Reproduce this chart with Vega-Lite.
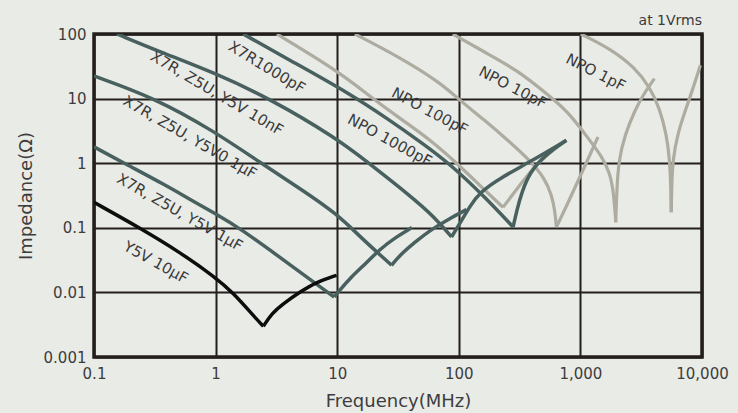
{
  "$schema": "https://vega.github.io/schema/vega-lite/v6.json",
  "width": 608,
  "height": 323,
  "autosize": {"type": "none"},
  "padding": {"left": 94, "top": 34, "right": 36, "bottom": 56},
  "background": "#e9ebe7",
  "config": {
    "view": {"stroke": "#231f1c", "strokeWidth": 3.5},
    "font": "DejaVu Sans"
  },
  "title": {"text": "at 1Vrms", "anchor": "end", "frame": "group", "orient": "top", "fontSize": 14, "fontWeight": "normal", "color": "#3a3a3a", "offset": -1, "font": "DejaVu Sans"},
  "datasets": {
    "curves": [
      {"c": "Y5V 10uF", "p": "a", "fam": "black", "f": 0.1, "z": 0.248},
      {"c": "Y5V 10uF", "p": "a", "fam": "black", "f": 0.239, "z": 0.0993},
      {"c": "Y5V 10uF", "p": "a", "fam": "black", "f": 0.509, "z": 0.0418},
      {"c": "Y5V 10uF", "p": "a", "fam": "black", "f": 0.988, "z": 0.0173},
      {"c": "Y5V 10uF", "p": "a", "fam": "black", "f": 1.40, "z": 0.0098},
      {"c": "Y5V 10uF", "p": "a", "fam": "black", "f": 2.03, "z": 0.00442},
      {"c": "Y5V 10uF", "p": "a", "fam": "black", "f": 2.47, "z": 0.00299},
      {"c": "Y5V 10uF", "p": "b", "fam": "black", "f": 2.47, "z": 0.00299},
      {"c": "Y5V 10uF", "p": "b", "fam": "black", "f": 2.90, "z": 0.00474},
      {"c": "Y5V 10uF", "p": "b", "fam": "black", "f": 3.60, "z": 0.00671},
      {"c": "Y5V 10uF", "p": "b", "fam": "black", "f": 4.93, "z": 0.01014},
      {"c": "Y5V 10uF", "p": "b", "fam": "black", "f": 6.76, "z": 0.01449},
      {"c": "Y5V 10uF", "p": "b", "fam": "black", "f": 9.88, "z": 0.0184},

      {"c": "1uF", "p": "a", "fam": "teal", "f": 0.1, "z": 1.79},
      {"c": "1uF", "p": "a", "fam": "teal", "f": 0.198, "z": 0.895},
      {"c": "1uF", "p": "a", "fam": "teal", "f": 0.376, "z": 0.471},
      {"c": "1uF", "p": "a", "fam": "teal", "f": 0.615, "z": 0.276},
      {"c": "1uF", "p": "a", "fam": "teal", "f": 0.988, "z": 0.1676},
      {"c": "1uF", "p": "a", "fam": "teal", "f": 1.585, "z": 0.0982},
      {"c": "1uF", "p": "a", "fam": "teal", "f": 3.38, "z": 0.0349},
      {"c": "1uF", "p": "a", "fam": "teal", "f": 5.96, "z": 0.01596},
      {"c": "1uF", "p": "a", "fam": "teal", "f": 9.44, "z": 0.00849},
      {"c": "1uF", "p": "b", "fam": "teal", "f": 9.44, "z": 0.00849},
      {"c": "1uF", "p": "b", "fam": "teal", "f": 10.5, "z": 0.01078},
      {"c": "1uF", "p": "b", "fam": "teal", "f": 12.7, "z": 0.01652},
      {"c": "1uF", "p": "b", "fam": "teal", "f": 16.9, "z": 0.0272},
      {"c": "1uF", "p": "b", "fam": "teal", "f": 22.4, "z": 0.0465},
      {"c": "1uF", "p": "b", "fam": "teal", "f": 30.3, "z": 0.0713},
      {"c": "1uF", "p": "b", "fam": "teal", "f": 41.1, "z": 0.1007},

      {"c": "0.1uF", "p": "a", "fam": "teal", "f": 0.1, "z": 22.4},
      {"c": "0.1uF", "p": "a", "fam": "teal", "f": 0.311, "z": 10.36},
      {"c": "0.1uF", "p": "a", "fam": "teal", "f": 0.969, "z": 3.15},
      {"c": "0.1uF", "p": "a", "fam": "teal", "f": 2.39, "z": 0.986},
      {"c": "0.1uF", "p": "a", "fam": "teal", "f": 4.93, "z": 0.408},
      {"c": "0.1uF", "p": "a", "fam": "teal", "f": 9.88, "z": 0.166},
      {"c": "0.1uF", "p": "a", "fam": "teal", "f": 15.3, "z": 0.0739},
      {"c": "0.1uF", "p": "a", "fam": "teal", "f": 21.2, "z": 0.0422},
      {"c": "0.1uF", "p": "a", "fam": "teal", "f": 28.0, "z": 0.0263},
      {"c": "0.1uF", "p": "b", "fam": "teal", "f": 28.0, "z": 0.0263},
      {"c": "0.1uF", "p": "b", "fam": "teal", "f": 32.7, "z": 0.0375},
      {"c": "0.1uF", "p": "b", "fam": "teal", "f": 43.5, "z": 0.0597},
      {"c": "0.1uF", "p": "b", "fam": "teal", "f": 57.8, "z": 0.0914},
      {"c": "0.1uF", "p": "b", "fam": "teal", "f": 84.3, "z": 0.140},
      {"c": "0.1uF", "p": "b", "fam": "teal", "f": 115.6, "z": 0.191},

      {"c": "10nF", "p": "a", "fam": "teal", "f": 0.1545, "z": 100},
      {"c": "10nF", "p": "a", "fam": "teal", "f": 0.349, "z": 53.0},
      {"c": "10nF", "p": "a", "fam": "teal", "f": 0.969, "z": 25.3},
      {"c": "10nF", "p": "a", "fam": "teal", "f": 2.80, "z": 10},
      {"c": "10nF", "p": "a", "fam": "teal", "f": 9.88, "z": 2.43},
      {"c": "10nF", "p": "a", "fam": "teal", "f": 17.4, "z": 1.07},
      {"c": "10nF", "p": "a", "fam": "teal", "f": 39.5, "z": 0.318},
      {"c": "10nF", "p": "a", "fam": "teal", "f": 63.5, "z": 0.1455},
      {"c": "10nF", "p": "a", "fam": "teal", "f": 87.1, "z": 0.0721},
      {"c": "10nF", "p": "b", "fam": "teal", "f": 87.1, "z": 0.0721},
      {"c": "10nF", "p": "b", "fam": "teal", "f": 101.9, "z": 0.116},
      {"c": "10nF", "p": "b", "fam": "teal", "f": 123.2, "z": 0.215},
      {"c": "10nF", "p": "b", "fam": "teal", "f": 149, "z": 0.355},
      {"c": "10nF", "p": "b", "fam": "teal", "f": 217, "z": 0.584},
      {"c": "10nF", "p": "b", "fam": "teal", "f": 383.6, "z": 1.044},
      {"c": "10nF", "p": "b", "fam": "teal", "f": 767, "z": 2.26},

      {"c": "X7R1000pF", "p": "a", "fam": "teal", "f": 1.687, "z": 100},
      {"c": "X7R1000pF", "p": "a", "fam": "teal", "f": 4.08, "z": 39.2},
      {"c": "X7R1000pF", "p": "a", "fam": "teal", "f": 12.7, "z": 11.95},
      {"c": "X7R1000pF", "p": "a", "fam": "teal", "f": 27.1, "z": 4.61},
      {"c": "X7R1000pF", "p": "a", "fam": "teal", "f": 47.8, "z": 2.18},
      {"c": "X7R1000pF", "p": "a", "fam": "teal", "f": 84.3, "z": 0.986},
      {"c": "X7R1000pF", "p": "a", "fam": "teal", "f": 169, "z": 0.283},
      {"c": "X7R1000pF", "p": "a", "fam": "teal", "f": 279.6, "z": 0.1028},
      {"c": "X7R1000pF", "p": "b", "fam": "teal", "f": 279.6, "z": 0.1028},
      {"c": "X7R1000pF", "p": "b", "fam": "teal", "f": 300, "z": 0.1866},
      {"c": "X7R1000pF", "p": "b", "fam": "teal", "f": 329.6, "z": 0.355},
      {"c": "X7R1000pF", "p": "b", "fam": "teal", "f": 383.6, "z": 0.723},
      {"c": "X7R1000pF", "p": "b", "fam": "teal", "f": 509, "z": 1.325},
      {"c": "X7R1000pF", "p": "b", "fam": "teal", "f": 767, "z": 2.26},

      {"c": "NPO 1000pF", "p": "a", "fam": "gray", "f": 3.19, "z": 100},
      {"c": "NPO 1000pF", "p": "a", "fam": "gray", "f": 9.94, "z": 27.4},
      {"c": "NPO 1000pF", "p": "a", "fam": "gray", "f": 18.6, "z": 10.85},
      {"c": "NPO 1000pF", "p": "a", "fam": "gray", "f": 32.7, "z": 4.95},
      {"c": "NPO 1000pF", "p": "a", "fam": "gray", "f": 57.8, "z": 2.34},
      {"c": "NPO 1000pF", "p": "a", "fam": "gray", "f": 98.6, "z": 0.961},
      {"c": "NPO 1000pF", "p": "a", "fam": "gray", "f": 154.5, "z": 0.424},
      {"c": "NPO 1000pF", "p": "a", "fam": "gray", "f": 231, "z": 0.2076},
      {"c": "NPO 1000pF", "p": "b", "fam": "gray", "f": 231, "z": 0.2076},
      {"c": "NPO 1000pF", "p": "b", "fam": "gray", "f": 317, "z": 0.455},
      {"c": "NPO 1000pF", "p": "b", "fam": "gray", "f": 435.5, "z": 0.986},
      {"c": "NPO 1000pF", "p": "b", "fam": "gray", "f": 740, "z": 2.2},

      {"c": "NPO 100pF", "p": "a", "fam": "gray", "f": 13.97, "z": 100},
      {"c": "NPO 100pF", "p": "a", "fam": "gray", "f": 32.7, "z": 43.6},
      {"c": "NPO 100pF", "p": "a", "fam": "gray", "f": 69.8, "z": 17.9},
      {"c": "NPO 100pF", "p": "a", "fam": "gray", "f": 101.9, "z": 9.41},
      {"c": "NPO 100pF", "p": "a", "fam": "gray", "f": 163.7, "z": 4.61},
      {"c": "NPO 100pF", "p": "a", "fam": "gray", "f": 253, "z": 2.26},
      {"c": "NPO 100pF", "p": "a", "fam": "gray", "f": 383.6, "z": 1.109},
      {"c": "NPO 100pF", "p": "a", "fam": "gray", "f": 509, "z": 0.584},
      {"c": "NPO 100pF", "p": "a", "fam": "gray", "f": 581.6, "z": 0.318},
      {"c": "NPO 100pF", "p": "a", "fam": "gray", "f": 615.6, "z": 0.1866},
      {"c": "NPO 100pF", "p": "a", "fam": "gray", "f": 635, "z": 0.1028},
      {"c": "NPO 100pF", "p": "b", "fam": "gray", "f": 635, "z": 0.1028},
      {"c": "NPO 100pF", "p": "b", "fam": "gray", "f": 787, "z": 0.239},
      {"c": "NPO 100pF", "p": "b", "fam": "gray", "f": 988, "z": 0.605},
      {"c": "NPO 100pF", "p": "b", "fam": "gray", "f": 1396, "z": 2.545},

      {"c": "NPO 10pF", "p": "a", "fam": "gray", "f": 89.3, "z": 100},
      {"c": "NPO 10pF", "p": "a", "fam": "gray", "f": 163.7, "z": 52.1},
      {"c": "NPO 10pF", "p": "a", "fam": "gray", "f": 305.5, "z": 27.4},
      {"c": "NPO 10pF", "p": "a", "fam": "gray", "f": 560, "z": 10.85},
      {"c": "NPO 10pF", "p": "a", "fam": "gray", "f": 787, "z": 6.36},
      {"c": "NPO 10pF", "p": "a", "fam": "gray", "f": 1194, "z": 2.26},
      {"c": "NPO 10pF", "p": "a", "fam": "gray", "f": 1498, "z": 1.279},
      {"c": "NPO 10pF", "p": "a", "fam": "gray", "f": 1742, "z": 0.723},
      {"c": "NPO 10pF", "p": "a", "fam": "gray", "f": 1879, "z": 0.355},
      {"c": "NPO 10pF", "p": "a", "fam": "gray", "f": 1953, "z": 0.1217},
      {"c": "NPO 10pF", "p": "b", "fam": "gray", "f": 1953, "z": 0.1217},
      {"c": "NPO 10pF", "p": "b", "fam": "gray", "f": 1990, "z": 0.3806},
      {"c": "NPO 10pF", "p": "b", "fam": "gray", "f": 2066, "z": 1.109},
      {"c": "NPO 10pF", "p": "b", "fam": "gray", "f": 2316, "z": 2.70},
      {"c": "NPO 10pF", "p": "b", "fam": "gray", "f": 2798, "z": 6.59},
      {"c": "NPO 10pF", "p": "b", "fam": "gray", "f": 3381, "z": 12.52},
      {"c": "NPO 10pF", "p": "b", "fam": "gray", "f": 4062, "z": 20.4},

      {"c": "NPO 1pF", "p": "a", "fam": "gray", "f": 1007, "z": 100},
      {"c": "NPO 1pF", "p": "a", "fam": "gray", "f": 1742, "z": 60.0},
      {"c": "NPO 1pF", "p": "a", "fam": "gray", "f": 2798, "z": 30.5},
      {"c": "NPO 1pF", "p": "a", "fam": "gray", "f": 3715, "z": 15.1},
      {"c": "NPO 1pF", "p": "a", "fam": "gray", "f": 4488, "z": 7.08},
      {"c": "NPO 1pF", "p": "a", "fam": "gray", "f": 5125, "z": 2.70},
      {"c": "NPO 1pF", "p": "a", "fam": "gray", "f": 5426, "z": 1.109},
      {"c": "NPO 1pF", "p": "a", "fam": "gray", "f": 5530, "z": 0.455},
      {"c": "NPO 1pF", "p": "a", "fam": "gray", "f": 5585, "z": 0.1738},
      {"c": "NPO 1pF", "p": "b", "fam": "gray", "f": 5585, "z": 0.1738},
      {"c": "NPO 1pF", "p": "b", "fam": "gray", "f": 5636, "z": 0.455},
      {"c": "NPO 1pF", "p": "b", "fam": "gray", "f": 5742, "z": 1.109},
      {"c": "NPO 1pF", "p": "b", "fam": "gray", "f": 6310, "z": 2.90},
      {"c": "NPO 1pF", "p": "b", "fam": "gray", "f": 7345, "z": 6.83},
      {"c": "NPO 1pF", "p": "b", "fam": "gray", "f": 8384, "z": 13.93},
      {"c": "NPO 1pF", "p": "b", "fam": "gray", "f": 9705, "z": 32.8}
    ],
    "labels": [
      {"label": "X7R1000pF", "f": 2.64, "z": 30.5},
      {"label": "X7R, Z5U, Y5V 10nF", "f": 1.026, "z": 12.08},
      {"label": "X7R, Z5U, Y5V0.1µF", "f": 0.615, "z": 2.52},
      {"label": "X7R, Z5U, Y5V 1µF", "f": 0.509, "z": 0.174},
      {"label": "Y5V 10µF", "f": 0.323, "z": 0.0292},
      {"label": "NPO 1000pF", "f": 27.1, "z": 2.26},
      {"label": "NPO 100pF", "f": 57.8, "z": 6.36},
      {"label": "NPO 10pF", "f": 278, "z": 14.96},
      {"label": "NPO 1pF", "f": 1337, "z": 25.5}
    ]
  },
  "encoding": {
    "x": {
      "field": "f", "type": "quantitative",
      "scale": {"type": "log", "domain": [0.1, 10000], "nice": false},
      "axis": {
        "values": [0.1, 1, 10, 100, 1000, 10000], "format": ",",
        "grid": true, "gridColor": "#231f1c", "gridWidth": 2, "gridOpacity": 1,
        "ticks": false, "domain": false, "labelFlush": false,
        "labelFontSize": 15, "labelColor": "#3d3d3d", "labelPadding": 9,
        "title": "Frequency(MHz)", "titleFontSize": 18, "titleFontWeight": "normal", "titleColor": "#3d3d3d", "titlePadding": 11
      }
    },
    "y": {
      "field": "z", "type": "quantitative",
      "scale": {"type": "log", "domain": [0.001, 100], "nice": false},
      "axis": {
        "values": [0.001, 0.01, 0.1, 1, 10, 100], "format": ",",
        "grid": true, "gridColor": "#231f1c", "gridWidth": 2, "gridOpacity": 1,
        "ticks": false, "domain": false,
        "labelFontSize": 15, "labelColor": "#3d3d3d", "labelPadding": 8,
        "title": "Impedance(Ω)", "titleFontSize": 18, "titleFontWeight": "normal", "titleColor": "#3d3d3d", "titlePadding": 8
      }
    }
  },
  "layer": [
    {
      "data": {"name": "curves"},
      "transform": [{"filter": "datum.fam == 'gray'"}],
      "mark": {"type": "line", "color": "#aeaca0", "strokeWidth": 3.2, "interpolate": "basis", "clip": true},
      "encoding": {"detail": [{"field": "c"}, {"field": "p"}]}
    },
    {
      "data": {"name": "curves"},
      "transform": [{"filter": "datum.fam == 'teal'"}],
      "mark": {"type": "line", "color": "#48615f", "strokeWidth": 3.5, "interpolate": "basis", "clip": true},
      "encoding": {"detail": [{"field": "c"}, {"field": "p"}]}
    },
    {
      "data": {"name": "curves"},
      "transform": [{"filter": "datum.fam == 'black'"}],
      "mark": {"type": "line", "color": "#0d0d0d", "strokeWidth": 3.5, "interpolate": "basis", "clip": true},
      "encoding": {"detail": [{"field": "c"}, {"field": "p"}]}
    },
    {
      "data": {"name": "labels"},
      "mark": {"type": "text", "fontSize": 15, "color": "#3a3a3a", "font": "DejaVu Sans", "align": "center", "baseline": "middle"},
      "encoding": {
        "text": {"field": "label"},
        "angle": {
          "field": "label", "type": "nominal", "legend": null,
          "scale": {
            "domain": ["X7R1000pF", "X7R, Z5U, Y5V 10nF", "X7R, Z5U, Y5V0.1µF", "X7R, Z5U, Y5V 1µF", "Y5V 10µF", "NPO 1000pF", "NPO 100pF", "NPO 10pF", "NPO 1pF"],
            "range": [31, 27, 29, 30, 35, 32, 33, 28, 37]
          }
        }
      }
    }
  ]
}
